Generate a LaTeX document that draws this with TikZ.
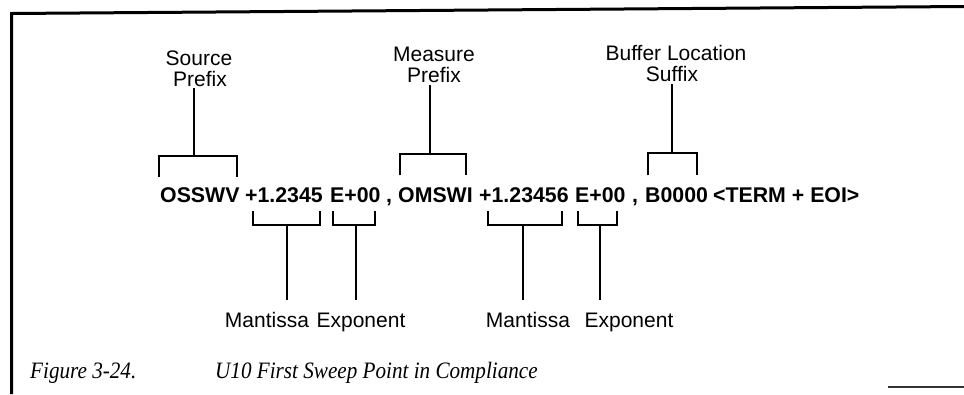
\documentclass[tikz,border=0pt]{standalone}
\usepackage{graphicx}
\usepackage{fontspec}
\setsansfont{Liberation Sans}
\setmainfont{Liberation Serif}
\newcommand\capstr[1]{\scalebox{0.9}[1]{#1}}
\begin{document}
\begin{tikzpicture}[x=1pt,y=-1pt,
  tok/.style={inner sep=0pt, anchor=base west, font=\sffamily\bfseries\fontsize{21.3}{24}\selectfont},
  lab/.style={inner sep=0pt, anchor=base, font=\sffamily\fontsize{21}{24}\selectfont},
  figcap/.style={inner sep=0pt, anchor=base west, font=\rmfamily\itshape\fontsize{23.5}{27}\selectfont},
  brk/.style={line width=2.7pt, line join=miter, line cap=butt},
  stemline/.style={line width=2.4pt},
  framel/.style={line width=3pt}]
\useasboundingbox (0,0) rectangle (964,394);
% frame
\coordinate (fbl) at (11.5,394);
\coordinate (ftl) at (11.5,13.5);
\coordinate (ftr) at (964,6.5);
\draw[framel, line join=miter] (fbl) -- (ftl) -- (ftr);
\coordinate (bra) at (888,387);
\coordinate (brb) at (964,387);
\draw[line width=2pt, black!80] (bra) -- (brb);

% main line tokens
\node[tok] (t1) at (160,202) {OSSWV};
\node[tok] (t2) at (245,202) {+1.2345};
\node[tok] (t3) at (330,202) {E+00};
\node[tok] (t4) at (386,202) {,};
\node[tok] (t5) at (398,202) {OMSWI};
\node[tok] (t6) at (479,202) {+1.23456};
\node[tok] (t7) at (575,202) {E+00};
\node[tok] (t8) at (632,202) {,};
\node[tok] (t9) at (645,202) {B0000};
\node[tok] (t10) at (713,202) {<TERM + EOI>};

% upper labels
\node[lab] (src1) at (199,65) {Source};
\node[lab] (src2) at (200,86) {Prefix};
\node[lab] (mea1) at (434,61) {Measure};
\node[lab] (mea2) at (434,82) {Prefix};
\node[lab] (buf1) at (676,60) {Buffer Location};
\node[lab] (buf2) at (672,81) {Suffix};

% upper brackets
\draw[brk] (159,177) -- (159,156) -- (237,156) -- (237,177);
\coordinate (sb) at (194,156);
\coordinate (st) at (194,88);
\draw[stemline] (st) -- (sb);
\draw[brk] (400,175) -- (400,154) -- (466,154) -- (466,175);
\coordinate (mb) at (430,154);
\coordinate (mt) at (430,85);
\draw[stemline] (mt) -- (mb);
\draw[brk] (648,175) -- (648,153) -- (697,153) -- (697,175);
\coordinate (bb) at (672,153);
\coordinate (bt) at (672,84);
\draw[stemline] (bt) -- (bb);

% lower brackets
\draw[brk] (253,211) -- (253,225) -- (320,225) -- (320,211);
\draw[brk] (333,211) -- (333,225) -- (375,225) -- (375,211);
\draw[brk] (488,211) -- (488,225) -- (562,225) -- (562,211);
\draw[brk] (578,211) -- (578,225) -- (617,225) -- (617,211);
\coordinate (m1a) at (287,225); \coordinate (m1b) at (287,300);
\coordinate (e1a) at (356,225); \coordinate (e1b) at (356,300);
\coordinate (m2a) at (523,225); \coordinate (m2b) at (523,300);
\coordinate (e2a) at (600,225); \coordinate (e2b) at (600,300);
\draw[stemline] (m1a) -- (m1b);
\draw[stemline] (e1a) -- (e1b);
\draw[stemline] (m2a) -- (m2b);
\draw[stemline] (e2a) -- (e2b);

% lower labels
\node[lab] (man1) at (267,327) {Mantissa};
\node[lab] (exp1) at (361,327) {Exponent};
\node[lab] (man2) at (528,327) {Mantissa};
\node[lab] (exp2) at (629,327) {Exponent};

% caption
\node[figcap] (fig) at (30,378) {\capstr{Figure 3-24.}};
\node[figcap] (title) at (215,378) {\capstr{U10 First Sweep Point in Compliance}};
\end{tikzpicture}
\end{document}
